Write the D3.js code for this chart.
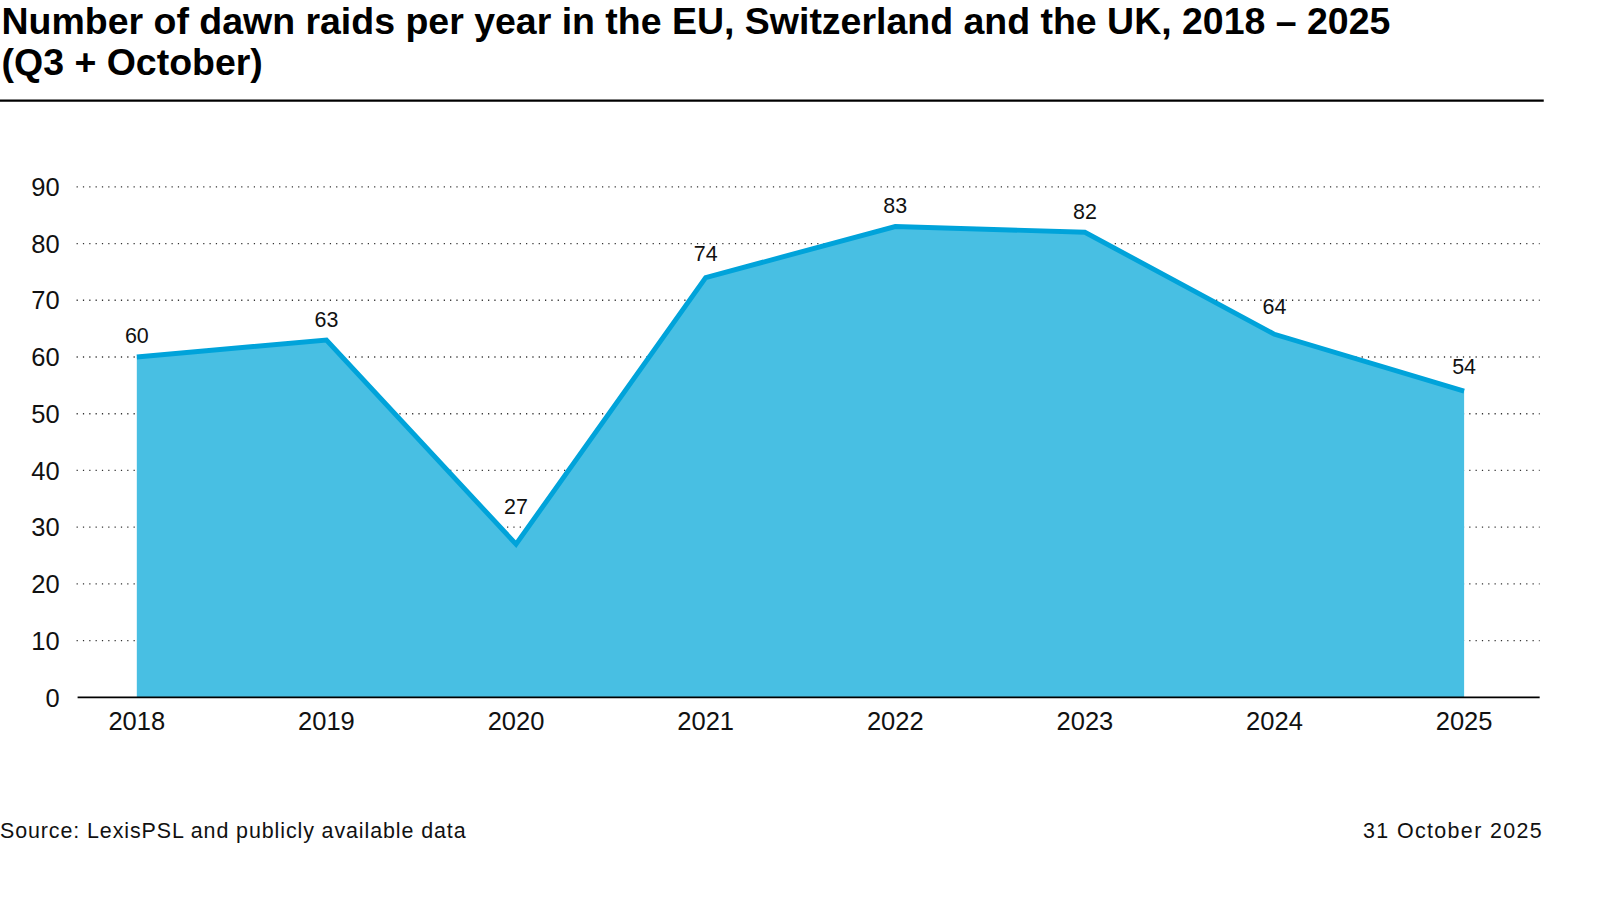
<!DOCTYPE html>
<html><head><meta charset="utf-8">
<script src="https://cdn.jsdelivr.net/npm/d3@7"></script>
<style>body{margin:0;background:#fff}svg{display:block}text{font-family:"Liberation Sans",Arial,sans-serif}</style>
</head><body>
<svg id="c" width="1600" height="900"></svg>
<script>
const years = ["2018","2019","2020","2021","2022","2023","2024","2025"];
const raids = [60,63,27,74,83,82,64,54];
const yTicks = [0,10,20,30,40,50,60,70,80,90];
const titleLines = ["Number of dawn raids per year in the EU, Switzerland and the UK, 2018 \u2013 2025","(Q3 + October)"];
const sourceText = "Source: LexisPSL and publicly available data";
const dateText = "31 October 2025";

const root = d3.select("#c").append("g").attr("transform","scale(1.021)");
const x = d3.scalePoint().domain(years).range([134,1434]);
const y = d3.scaleLinear().domain([0,90]).range([683,183]);

// title
const tl = root.selectAll("text.title").data(titleLines).join("text")
  .attr("class","title").attr("x",1.5).attr("y",(d,i)=>i===0?33:73)
  .attr("font-size",32).attr("font-weight","bold").attr("fill","#000").text(d=>d);
const tw = tl.nodes()[0].getComputedTextLength();
tl.attr("font-size",32*1360/tw);

root.append("line").attr("x1",0).attr("x2",1512).attr("y1",98.5).attr("y2",98.5)
  .attr("stroke","#000").attr("stroke-width",2.2);

// grid
root.selectAll("line.grid").data(yTicks.filter(d=>d>0)).join("line")
  .attr("class","grid").attr("x1",75).attr("x2",1508)
  .attr("y1",d=>y(d)).attr("y2",d=>y(d))
  .attr("stroke","#333").attr("stroke-width",1.3).attr("stroke-dasharray","1.2,5");

// y labels
root.selectAll("text.yl").data(yTicks).join("text").attr("class","yl")
  .attr("x",58.5).attr("y",d=>y(d)+9).attr("text-anchor","end")
  .attr("font-size",25).attr("fill","#111").text(d=>d);

// area + line
const area = d3.area().x((d,i)=>x(years[i])).y0(y(0)).y1(d=>y(d));
root.append("path").datum(raids).attr("d",area).attr("fill","#48BFE3");
const line = d3.line().x((d,i)=>x(years[i])).y(d=>y(d));
root.append("path").datum(raids).attr("d",line).attr("fill","none")
  .attr("stroke","#00A3DA").attr("stroke-width",4.8).attr("stroke-linejoin","miter");

// baseline axis
root.append("line").attr("x1",76).attr("x2",1508).attr("y1",y(0)).attr("y2",y(0))
  .attr("stroke","#000").attr("stroke-width",1.6);

// x labels
root.selectAll("text.xl").data(years).join("text").attr("class","xl")
  .attr("x",d=>x(d)).attr("y",715).attr("text-anchor","middle")
  .attr("font-size",25).attr("fill","#111").text(d=>d);

// value labels: lifted above the line near each point
const halfW = 12;
function lift(i){
  let rise = 0;
  [i-1,i+1].forEach(j=>{
    if(j<0||j>=raids.length) return;
    const dx = Math.abs(x(years[j])-x(years[i]));
    const dy = y(raids[i]) - y(raids[j]);
    if(dy>0) rise = Math.max(rise, dy*halfW/dx);
  });
  return 13 + rise;
}
root.selectAll("text.vl").data(raids).join("text").attr("class","vl")
  .attr("x",(d,i)=>x(years[i])).attr("y",(d,i)=>y(d)-lift(i)).attr("text-anchor","middle")
  .attr("font-size",21).attr("fill","#111")
  .attr("stroke","#fff").attr("stroke-width",2).attr("paint-order","stroke")
  .text(d=>d);

// footer
root.append("text").attr("x",0).attr("y",821).attr("font-size",21).attr("fill","#111")
  .attr("textLength",456).attr("lengthAdjust","spacing").text(sourceText);
root.append("text").attr("x",1510).attr("y",821).attr("text-anchor","end").attr("font-size",21).attr("fill","#111")
  .attr("textLength",175).attr("lengthAdjust","spacing").text(dateText);
</script>
</body></html>
